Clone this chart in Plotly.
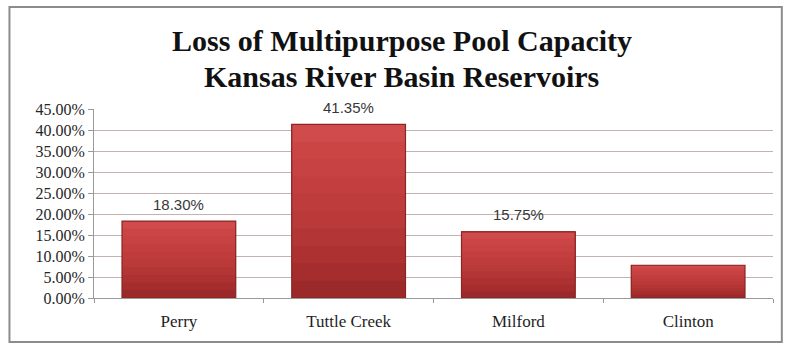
import plotly.graph_objects as go

# Reservoir capacity losses (fraction of multipurpose pool)
reservoirs = ["Perry", "Tuttle Creek", "Milford", "Clinton"]
loss_pct = [18.30, 41.35, 15.75, 7.80]
labelled = [True, True, True, False]
y_ticks = [0, 5, 10, 15, 20, 25, 30, 35, 40, 45]
title_lines = ["Loss of Multipurpose Pool Capacity", "Kansas River Basin Reservoirs"]

# Vertical shading for the bars, darker at the base to lighter at the top
shade_colors = ["#9c2929", "#a52d2d", "#ad3131", "#b43535", "#ba3939",
                "#bf3c3c", "#c33f3f", "#c74242", "#cb4545", "#d04b4b"]
n_seg = len(shade_colors)

fig = go.Figure()
for i, col in enumerate(shade_colors):
    # each layer starts higher and runs to the top of the bar, so later layers overpaint
    fig.add_trace(go.Bar(
        x=reservoirs,
        y=[v * (1 - i / n_seg) for v in loss_pct],
        base=[v * i / n_seg for v in loss_pct],
        marker=dict(color=col, line=dict(width=0)),
        width=0.67,
        hoverinfo="skip",
        showlegend=False,
    ))

# Outline over the shaded bars
fig.add_trace(go.Bar(
    x=reservoirs,
    y=loss_pct,
    marker=dict(color="rgba(0,0,0,0)", line=dict(color="#8a2626", width=1.2)),
    width=0.67,
    showlegend=False,
    hovertemplate="%{x}: %{y:.2f}%<extra></extra>",
))

# Value labels above the bars
for name, v, show in zip(reservoirs, loss_pct, labelled):
    if show:
        fig.add_annotation(
            x=name, y=v, text=f"{v:.2f}%", showarrow=False,
            yanchor="middle", yshift=17,
            font=dict(family="Liberation Sans, Arial, sans-serif", size=15, color="#383838"),
        )

# Two-line chart title
for line, ypos in zip(title_lines, [1.362, 1.172]):
    fig.add_annotation(
        x=0.453, y=ypos, xref="paper", yref="paper",
        text=f"<b>{line}</b>", showarrow=False,
        xanchor="center", yanchor="middle",
        font=dict(family="Liberation Serif, Times New Roman, serif", size=30, color="#111111"),
    )

# Outer chart frame
fig.add_shape(
    type="rect", xref="paper", yref="paper",
    x0=-0.1245, x1=1.013, y0=-0.233, y1=1.5397,
    line=dict(color="#8c8c8c", width=2), fillcolor="rgba(0,0,0,0)", layer="below",
)

fig.update_layout(
    width=791, height=349,
    margin=dict(l=94, r=18, t=109, b=51),
    paper_bgcolor="white", plot_bgcolor="white",
    barmode="overlay",
    font=dict(family="Liberation Serif, Times New Roman, serif", size=16, color="#333333"),
    xaxis=dict(
        showline=True, linecolor="#9a9a9a", linewidth=1,
        ticks="outside", tickson="boundaries", ticklen=4, tickcolor="#9a9a9a",
        showgrid=False, ticklabelstandoff=8,
        tickfont=dict(family="Liberation Serif, Times New Roman, serif", size=17, color="#1e1e1e"),
    ),
    yaxis=dict(
        range=[0, 45], tickvals=y_ticks,
        ticktext=[f"{t:.2f}%" for t in y_ticks],
        showgrid=True, gridcolor="#c2b2b2", gridwidth=1,
        showline=True, linecolor="#9a9a9a", linewidth=1,
        ticks="outside", ticklen=5, tickcolor="#9a9a9a",
        zeroline=False,
        tickfont=dict(family="Liberation Serif, Times New Roman, serif", size=16, color="#262626"),
    ),
)

fig.write_html("out.html")
